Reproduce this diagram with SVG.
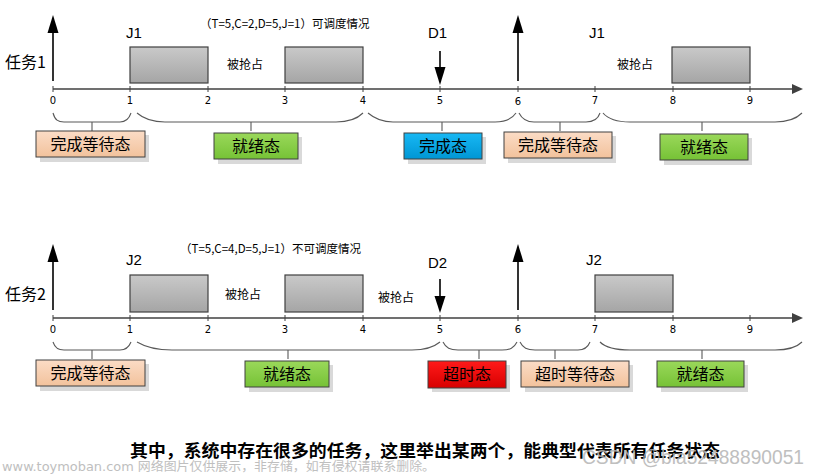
<svg xmlns="http://www.w3.org/2000/svg" width="816" height="474" viewBox="0 0 816 474">
<defs>
<linearGradient id="gGray" x1="0" y1="0" x2="0" y2="1"><stop offset="0" stop-color="#c9c9c9"/><stop offset="1" stop-color="#a5a5a5"/></linearGradient>
<linearGradient id="gPeach" x1="0" y1="0" x2="0" y2="1"><stop offset="0" stop-color="#fbdcc6"/><stop offset="1" stop-color="#f2c29c"/></linearGradient>
<linearGradient id="gGreen" x1="0" y1="0" x2="0" y2="1"><stop offset="0" stop-color="#9ad85a"/><stop offset="1" stop-color="#76c236"/></linearGradient>
<linearGradient id="gBlue" x1="0" y1="0" x2="0" y2="1"><stop offset="0" stop-color="#18b8f4"/><stop offset="1" stop-color="#0096d4"/></linearGradient>
<linearGradient id="gRed" x1="0" y1="0" x2="0" y2="1"><stop offset="0" stop-color="#ff1a1a"/><stop offset="1" stop-color="#d80000"/></linearGradient>
</defs>
<style>
.axis{stroke:#404040;stroke-width:1.4;fill:none}
.tick{stroke:#404040;stroke-width:1}
.ah{fill:#404040}
.arr{stroke:#000;stroke-width:1.6}
.head{fill:#000}
.brace{stroke:#595959;stroke-width:1.1;fill:none}
.job{stroke:#404040;stroke-width:1.2;fill:url(#gGray)}
.shadow{fill:#d9d9d9}
.box{stroke:#404040;stroke-width:1}
.num{font-family:"DejaVu Sans",sans-serif;font-size:10px;fill:#000;text-anchor:middle}
.lbl{font-family:"Liberation Sans",sans-serif;font-size:15px;fill:#000}
.cn{font-family:"Noto Sans CJK SC",sans-serif;fill:#000}
.st{font-family:"Noto Sans CJK SC",sans-serif;font-size:16px;fill:#000;text-anchor:middle}
</style>

<g id="connectors">
<!-- top axis -->
<line class="axis" x1="53" y1="89" x2="795" y2="89"/>
<polygon class="ah" points="792,84 803,89 792,94"/>
<g class="tick">
<line x1="53" y1="86" x2="53" y2="92"/><line x1="130" y1="86" x2="130" y2="92"/><line x1="208" y1="86" x2="208" y2="92"/><line x1="285" y1="86" x2="285" y2="92"/><line x1="363" y1="86" x2="363" y2="92"/><line x1="440" y1="86" x2="440" y2="92"/><line x1="518" y1="86" x2="518" y2="92"/><line x1="595" y1="86" x2="595" y2="92"/><line x1="673" y1="86" x2="673" y2="92"/><line x1="750" y1="86" x2="750" y2="92"/>
</g>
<line class="arr" x1="53" y1="81" x2="53" y2="30"/><polygon class="head" points="47.5,33 53,15 58.5,33"/>
<line class="arr" x1="518" y1="81" x2="518" y2="30"/><polygon class="head" points="512.5,33 518,15 523.5,33"/>
<line class="arr" x1="440" y1="51" x2="440" y2="70"/><polygon class="head" points="434.5,67 440,85 445.5,67"/>
<!-- top braces -->
<path class="brace" d="M53,113 C55,120 58,122 64,122 L120,122 C126,122 129,119 131,113 M92,122 V131"/>
<path class="brace" d="M137,113 C145,120 155,122 165,122 L336,122 C348,122 357,119 363,113 M251,122 V131"/>
<path class="brace" d="M368,113 C375,119 383,122 393,122 L495,122 C505,122 512,119 516,113 M442,122 V131"/>
<path class="brace" d="M519,113 C522,119 526,122 534,122 L586,122 C594,122 598,119 600,113 M560,122 V131"/>
<path class="brace" d="M603,113 C608,119 616,122 630,122 L775,122 C790,122 797,118 802,113 M702,122 V131"/>

<!-- bottom axis -->
<line class="axis" x1="53" y1="318" x2="795" y2="318"/>
<polygon class="ah" points="792,313 803,318 792,323"/>
<g class="tick">
<line x1="53" y1="315" x2="53" y2="321"/><line x1="130" y1="315" x2="130" y2="321"/><line x1="208" y1="315" x2="208" y2="321"/><line x1="285" y1="315" x2="285" y2="321"/><line x1="363" y1="315" x2="363" y2="321"/><line x1="440" y1="315" x2="440" y2="321"/><line x1="518" y1="315" x2="518" y2="321"/><line x1="595" y1="315" x2="595" y2="321"/><line x1="673" y1="315" x2="673" y2="321"/><line x1="750" y1="315" x2="750" y2="321"/>
</g>
<line class="arr" x1="53" y1="310" x2="53" y2="259"/><polygon class="head" points="47.5,262 53,244 58.5,262"/>
<line class="arr" x1="518" y1="310" x2="518" y2="259"/><polygon class="head" points="512.5,262 518,244 523.5,262"/>
<line class="arr" x1="440" y1="279" x2="440" y2="298"/><polygon class="head" points="434.5,296 440,313 445.5,296"/>
<!-- bottom braces -->
<path class="brace" d="M53,342 C55,348 58,350 64,350 L120,350 C126,350 129,347 131,342 M92,350 V359"/>
<path class="brace" d="M137,342 C147,348 158,350 172,350 L412,350 C425,350 434,347 440,342 M288,350 V359"/>
<path class="brace" d="M443,342 C446,348 450,350 458,350 L502,350 C510,350 514,348 517,342 M479,350 V359"/>
<path class="brace" d="M520,342 C523,348 527,350 535,350 L578,350 C585,350 588,347 590,342 M555,350 V359"/>
<path class="brace" d="M600,342 C606,348 615,350 630,350 L775,350 C790,350 797,347 802,342 M702,350 V359"/>
</g>

<g id="tick-labels">
<text class="num" x="53" y="104">0</text><text class="num" x="130" y="104">1</text><text class="num" x="208" y="104">2</text><text class="num" x="285" y="104">3</text><text class="num" x="363" y="104">4</text><text class="num" x="440" y="104">5</text><text class="num" x="518" y="105">6</text><text class="num" x="595" y="104">7</text><text class="num" x="673" y="104">8</text><text class="num" x="750" y="104">9</text>
<text class="num" x="53" y="333">0</text><text class="num" x="130" y="333">1</text><text class="num" x="208" y="333">2</text><text class="num" x="285" y="333">3</text><text class="num" x="363" y="333">4</text><text class="num" x="440" y="333">5</text><text class="num" x="518" y="333">6</text><text class="num" x="595" y="333">7</text><text class="num" x="673" y="333">8</text><text class="num" x="750" y="333">9</text>
</g>

<g id="task1">
<text class="cn" x="5" y="68" font-size="16">任务1</text>
<text class="cn" x="200" y="28" font-size="11.5">（T=5,C=2,D=5,J=1）可调度情况</text>
<text class="lbl" x="126" y="38">J1</text>
<text class="lbl" x="428" y="38">D1</text>
<text class="lbl" x="589" y="38">J1</text>
<text class="cn" x="227" y="69" font-size="12">被抢占</text>
<text class="cn" x="617" y="69" font-size="12">被抢占</text>
</g>
<g id="job1a"><rect class="job" x="130" y="47" width="78" height="36"/></g>
<g id="job1b"><rect class="job" x="285" y="47" width="78" height="36"/></g>
<g id="job1c"><rect class="job" x="672" y="47" width="78" height="36"/></g>

<g id="s1-wait"><rect class="shadow" x="40" y="135" width="109" height="27"/><rect class="box" fill="url(#gPeach)" x="36" y="131" width="109" height="26"/><text class="st" x="90.5" y="150">完成等待态</text></g>
<g id="s1-ready"><rect class="shadow" x="218" y="137" width="84" height="27"/><rect class="box" fill="url(#gGreen)" x="214" y="133" width="84" height="26"/><text class="st" x="256" y="152">就绪态</text></g>
<g id="s1-done"><rect class="shadow" x="408" y="137" width="78" height="27"/><rect class="box" fill="url(#gBlue)" x="404" y="133" width="78" height="26"/><text class="st" x="443" y="152">完成态</text></g>
<g id="s1-wait2"><rect class="shadow" x="508" y="136" width="108" height="27"/><rect class="box" fill="url(#gPeach)" x="504" y="132" width="108" height="26"/><text class="st" x="558" y="151">完成等待态</text></g>
<g id="s1-ready2"><rect class="shadow" x="664" y="138" width="88" height="27"/><rect class="box" fill="url(#gGreen)" x="660" y="134" width="88" height="26"/><text class="st" x="704" y="153">就绪态</text></g>

<g id="task2">
<text class="cn" x="5" y="300" font-size="16">任务2</text>
<text class="cn" x="180" y="253" font-size="11.5">（T=5,C=4,D=5,J=1）不可调度情况</text>
<text class="lbl" x="126" y="265">J2</text>
<text class="lbl" x="428" y="268">D2</text>
<text class="lbl" x="586" y="265">J2</text>
<text class="cn" x="225" y="299" font-size="12">被抢占</text>
<text class="cn" x="378" y="302" font-size="12">被抢占</text>
</g>
<g id="job2a"><rect class="job" x="130" y="275" width="78" height="37"/></g>
<g id="job2b"><rect class="job" x="285" y="275" width="78" height="37"/></g>
<g id="job2c"><rect class="job" x="595" y="275" width="78" height="37"/></g>

<g id="s2-wait"><rect class="shadow" x="40" y="364" width="109" height="27"/><rect class="box" fill="url(#gPeach)" x="36" y="360" width="109" height="26"/><text class="st" x="90.5" y="379">完成等待态</text></g>
<g id="s2-ready"><rect class="shadow" x="249" y="365" width="84" height="27"/><rect class="box" fill="url(#gGreen)" x="245" y="361" width="84" height="26"/><text class="st" x="287" y="380">就绪态</text></g>
<g id="s2-timeout"><rect class="shadow" x="432" y="365" width="78" height="27"/><rect class="box" fill="url(#gRed)" x="428" y="361" width="78" height="27"/><text class="st" x="467" y="380">超时态</text></g>
<g id="s2-twait"><rect class="shadow" x="525" y="365" width="108" height="27"/><rect class="box" fill="url(#gPeach)" x="521" y="361" width="108" height="26"/><text class="st" x="575" y="380">超时等待态</text></g>
<g id="s2-ready2"><rect class="shadow" x="661" y="365" width="87" height="27"/><rect class="box" fill="url(#gGreen)" x="657" y="361" width="87" height="26"/><text class="st" x="700.5" y="380">就绪态</text></g>

<g id="caption">
<text class="cn" x="130" y="457" font-size="17" font-weight="700" textLength="590" lengthAdjust="spacingAndGlyphs">其中，系统中存在很多的任务，这里举出某两个，能典型代表所有任务状态</text>
</g>
<g id="watermarks" fill="#b4b4b4" opacity="0.85">
<text x="2" y="471" font-family="'DejaVu Sans','Noto Sans CJK SC',sans-serif" font-size="12.5" textLength="433" lengthAdjust="spacingAndGlyphs">www.toymoban.com 网络图片仅供展示，非存储，如有侵权请联系删除。</text>
<text x="582" y="464" font-family="'Liberation Sans',sans-serif" font-size="20" textLength="222" lengthAdjust="spacingAndGlyphs">CSDN @bia52488890051</text>
</g>
</svg>
